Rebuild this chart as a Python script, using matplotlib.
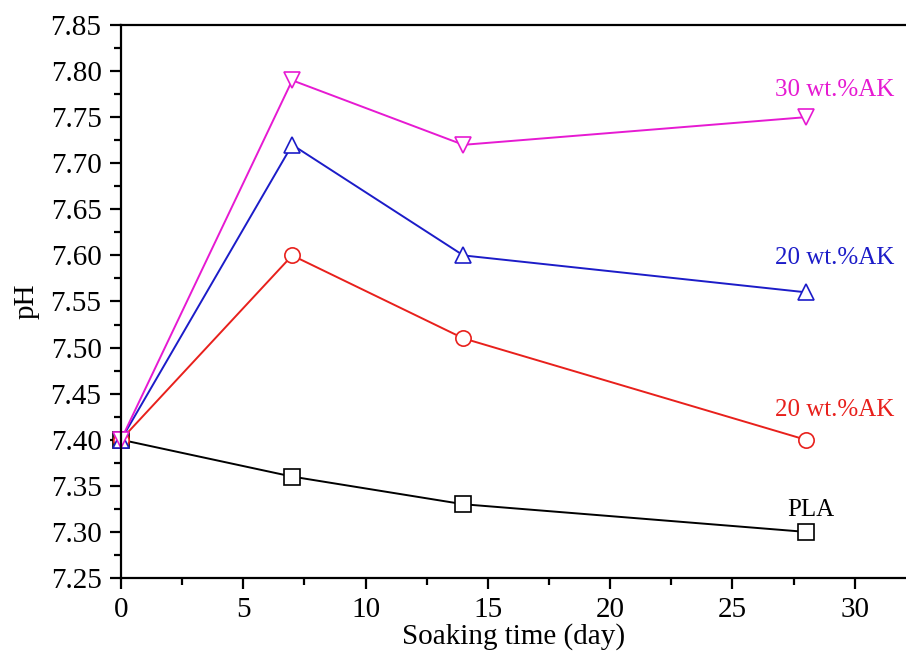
"""
pH of soaking medium over time for PLA and PLA/AK composites.
"""

import matplotlib
matplotlib.use("Agg")
import matplotlib.pyplot as plt
from matplotlib.ticker import MultipleLocator, FormatStrFormatter

plt.rcParams["font.family"] = ["Liberation Serif", "DejaVu Serif"]

days = [0, 7, 14, 28]
ph_pla = [7.40, 7.36, 7.33, 7.30]
ph_ak20_red = [7.40, 7.60, 7.51, 7.40]
ph_ak20_blue = [7.40, 7.72, 7.60, 7.56]
ph_ak30 = [7.40, 7.79, 7.72, 7.75]

labels = ["PLA", "20 wt.%AK", "20 wt.%AK", "30 wt.%AK"]
label_pos = [(28.2, 7.324), (29.2, 7.432), (29.2, 7.597), (29.2, 7.779)]

series = [
    (ph_pla, "black", "s"),
    (ph_ak20_red, "#e8201c", "o"),
    (ph_ak20_blue, "#1c1cc8", "^"),
    (ph_ak30, "#e61ad2", "v"),
]

fig = plt.figure(figsize=(9.06, 6.55), dpi=100)
ax = fig.add_axes([0.1336, 0.1176, 0.8664, 0.8442])

for (vals, color, marker), text, (tx, ty) in zip(series, labels, label_pos):
    ax.plot(
        days,
        vals,
        color=color,
        marker=marker,
        markersize=11,
        markerfacecolor="white",
        markeredgecolor=color,
        markeredgewidth=1.2,
        linewidth=1.4,
        clip_on=False,
    )
    ax.text(tx, ty, text, color=color, fontsize=18, ha="center", va="center")

ax.set_xlim(0, 32.1)
ax.set_ylim(7.25, 7.85)
ax.xaxis.set_major_locator(MultipleLocator(5))
ax.xaxis.set_minor_locator(MultipleLocator(2.5))
ax.yaxis.set_major_locator(MultipleLocator(0.05))
ax.yaxis.set_minor_locator(MultipleLocator(0.025))
ax.yaxis.set_major_formatter(FormatStrFormatter("%.2f"))

ax.spines["right"].set_visible(False)
for side in ["left", "bottom", "top"]:
    ax.spines[side].set_linewidth(1.6)

ax.tick_params(which="major", direction="out", length=8, width=1.6,
               labelsize=21, pad=6, top=False, right=False)
ax.tick_params(which="minor", direction="out", length=5, width=1.6,
               top=False, right=False)

ax.set_xlabel("Soaking time (day)", fontsize=21, labelpad=0)
ax.set_ylabel("pH", fontsize=21, labelpad=8)

fig.savefig("out.png", dpi=100)
plt.close(fig)
